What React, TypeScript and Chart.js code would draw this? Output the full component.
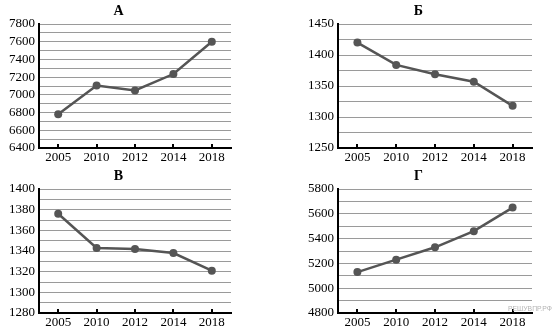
import React, { useEffect, useRef } from "react";
import { Chart, registerables } from "chart.js";

Chart.register(...registerables);

const years = ["2005", "2010", "2012", "2014", "2018"];

const titleA = "А";
const valuesA = [6780, 7105, 7050, 7235, 7600];
const rangeA = [6400, 7800, 100, 200];

const titleB = "Б";
const valuesB = [1420, 1384, 1369, 1357, 1318];
const rangeB = [1250, 1450, 25, 50];

const titleV = "В";
const valuesV = [1376, 1343, 1342, 1338, 1321];
const rangeV = [1280, 1400, 10, 20];

const titleG = "Г";
const valuesG = [5130, 5230, 5330, 5460, 5650];
const rangeG = [4800, 5800, 100, 200];

const watermark = "РЕШУВПР.РФ";

const FONT = "'Liberation Serif', 'Times New Roman', serif";
const LINE = "#555555";

const upTicks = {
  id: "upTicks",
  beforeDatasetsDraw(chart: any) {
    const xs = chart.scales.x;
    const ctx = chart.ctx;
    const bottom = chart.chartArea.bottom;
    ctx.save();
    ctx.strokeStyle = "#000";
    ctx.lineWidth = 2;
    xs.ticks.forEach((_: any, i: number) => {
      const px = Math.round(xs.getPixelForTick(i));
      ctx.beginPath();
      ctx.moveTo(px, bottom);
      ctx.lineTo(px, bottom - 4);
      ctx.stroke();
    });
    ctx.restore();
  },
};

function Panel(props: {
  title: string;
  values: number[];
  range: number[];
  left: number;
  top: number;
  width: number;
}) {
  const ref = useRef<HTMLCanvasElement>(null);
  useEffect(() => {
    const [min, max, step, labelStep] = props.range;
    const chart = new Chart(ref.current!, {
      type: "line",
      data: {
        labels: years,
        datasets: [
          {
            data: props.values,
            borderColor: LINE,
            backgroundColor: LINE,
            borderWidth: 2.5,
            pointRadius: 4,
            pointBorderWidth: 0,
            pointBackgroundColor: LINE,
            tension: 0,
          },
        ],
      },
      options: {
        responsive: false,
        animation: false,
        layout: { padding: { right: 6, left: 0, top: 0, bottom: 0 } },
        plugins: {
          legend: { display: false },
          tooltip: { enabled: false },
          title: {
            display: true,
            text: props.title,
            color: "#000",
            font: { family: FONT, size: 14, weight: "bold", lineHeight: 1 },
            padding: { top: 4, bottom: 6 },
          },
        },
        scales: {
          x: {
            offset: true,
            grid: { display: false, drawTicks: false },
            border: { display: true, color: "#000", width: 2 },
            ticks: {
              color: "#000",
              font: { family: FONT, size: 13 },
              padding: 2,
              maxRotation: 0,
            },
            afterFit(scale: any) {
              scale.height = 17;
            },
          },
          y: {
            min,
            max,
            grid: { color: "#9a9a9a", lineWidth: 1, drawTicks: false },
            border: { display: true, color: "#000", width: 2 },
            ticks: {
              stepSize: step,
              maxTicksLimit: 40,
              autoSkip: false,
              color: "#000",
              font: { family: FONT, size: 13 },
              padding: 4,
              callback: (v: any) =>
                Math.abs(((Number(v) - min) / labelStep) - Math.round((Number(v) - min) / labelStep)) < 1e-6
                  ? String(v)
                  : "",
            },
            afterFit(scale: any) {
              scale.width = 33;
            },
          },
        },
      } as any,
      plugins: [upTicks],
    });
    return () => chart.destroy();
  }, []);
  return (
    <canvas
      ref={ref}
      width={props.width}
      height={165}
      style={{
        position: "absolute",
        left: props.left,
        top: props.top,
        width: props.width,
        height: 165,
      }}
    />
  );
}

export default function App() {
  return (
    <div
      style={{
        position: "fixed",
        left: 0,
        top: 0,
        width: 555,
        height: 336,
        background: "#fff",
        overflow: "hidden",
      }}
    >
      <Panel title={titleA} values={valuesA} range={rangeA} left={6} top={0} width={231} />
      <Panel title={titleB} values={valuesB} range={rangeB} left={305} top={0} width={233} />
      <Panel title={titleV} values={valuesV} range={rangeV} left={6} top={165} width={231} />
      <Panel title={titleG} values={valuesG} range={rangeG} left={305} top={165} width={233} />
      <div
        style={{
          position: "absolute",
          left: 508,
          top: 304,
          fontFamily: "'Liberation Sans', Arial, sans-serif",
          fontSize: 8,
          lineHeight: "10px",
          color: "#b4b4b4",
          whiteSpace: "nowrap",
          transform: "scaleX(0.85)",
          transformOrigin: "left top",
        }}
      >
        {watermark}
      </div>
    </div>
  );
}
